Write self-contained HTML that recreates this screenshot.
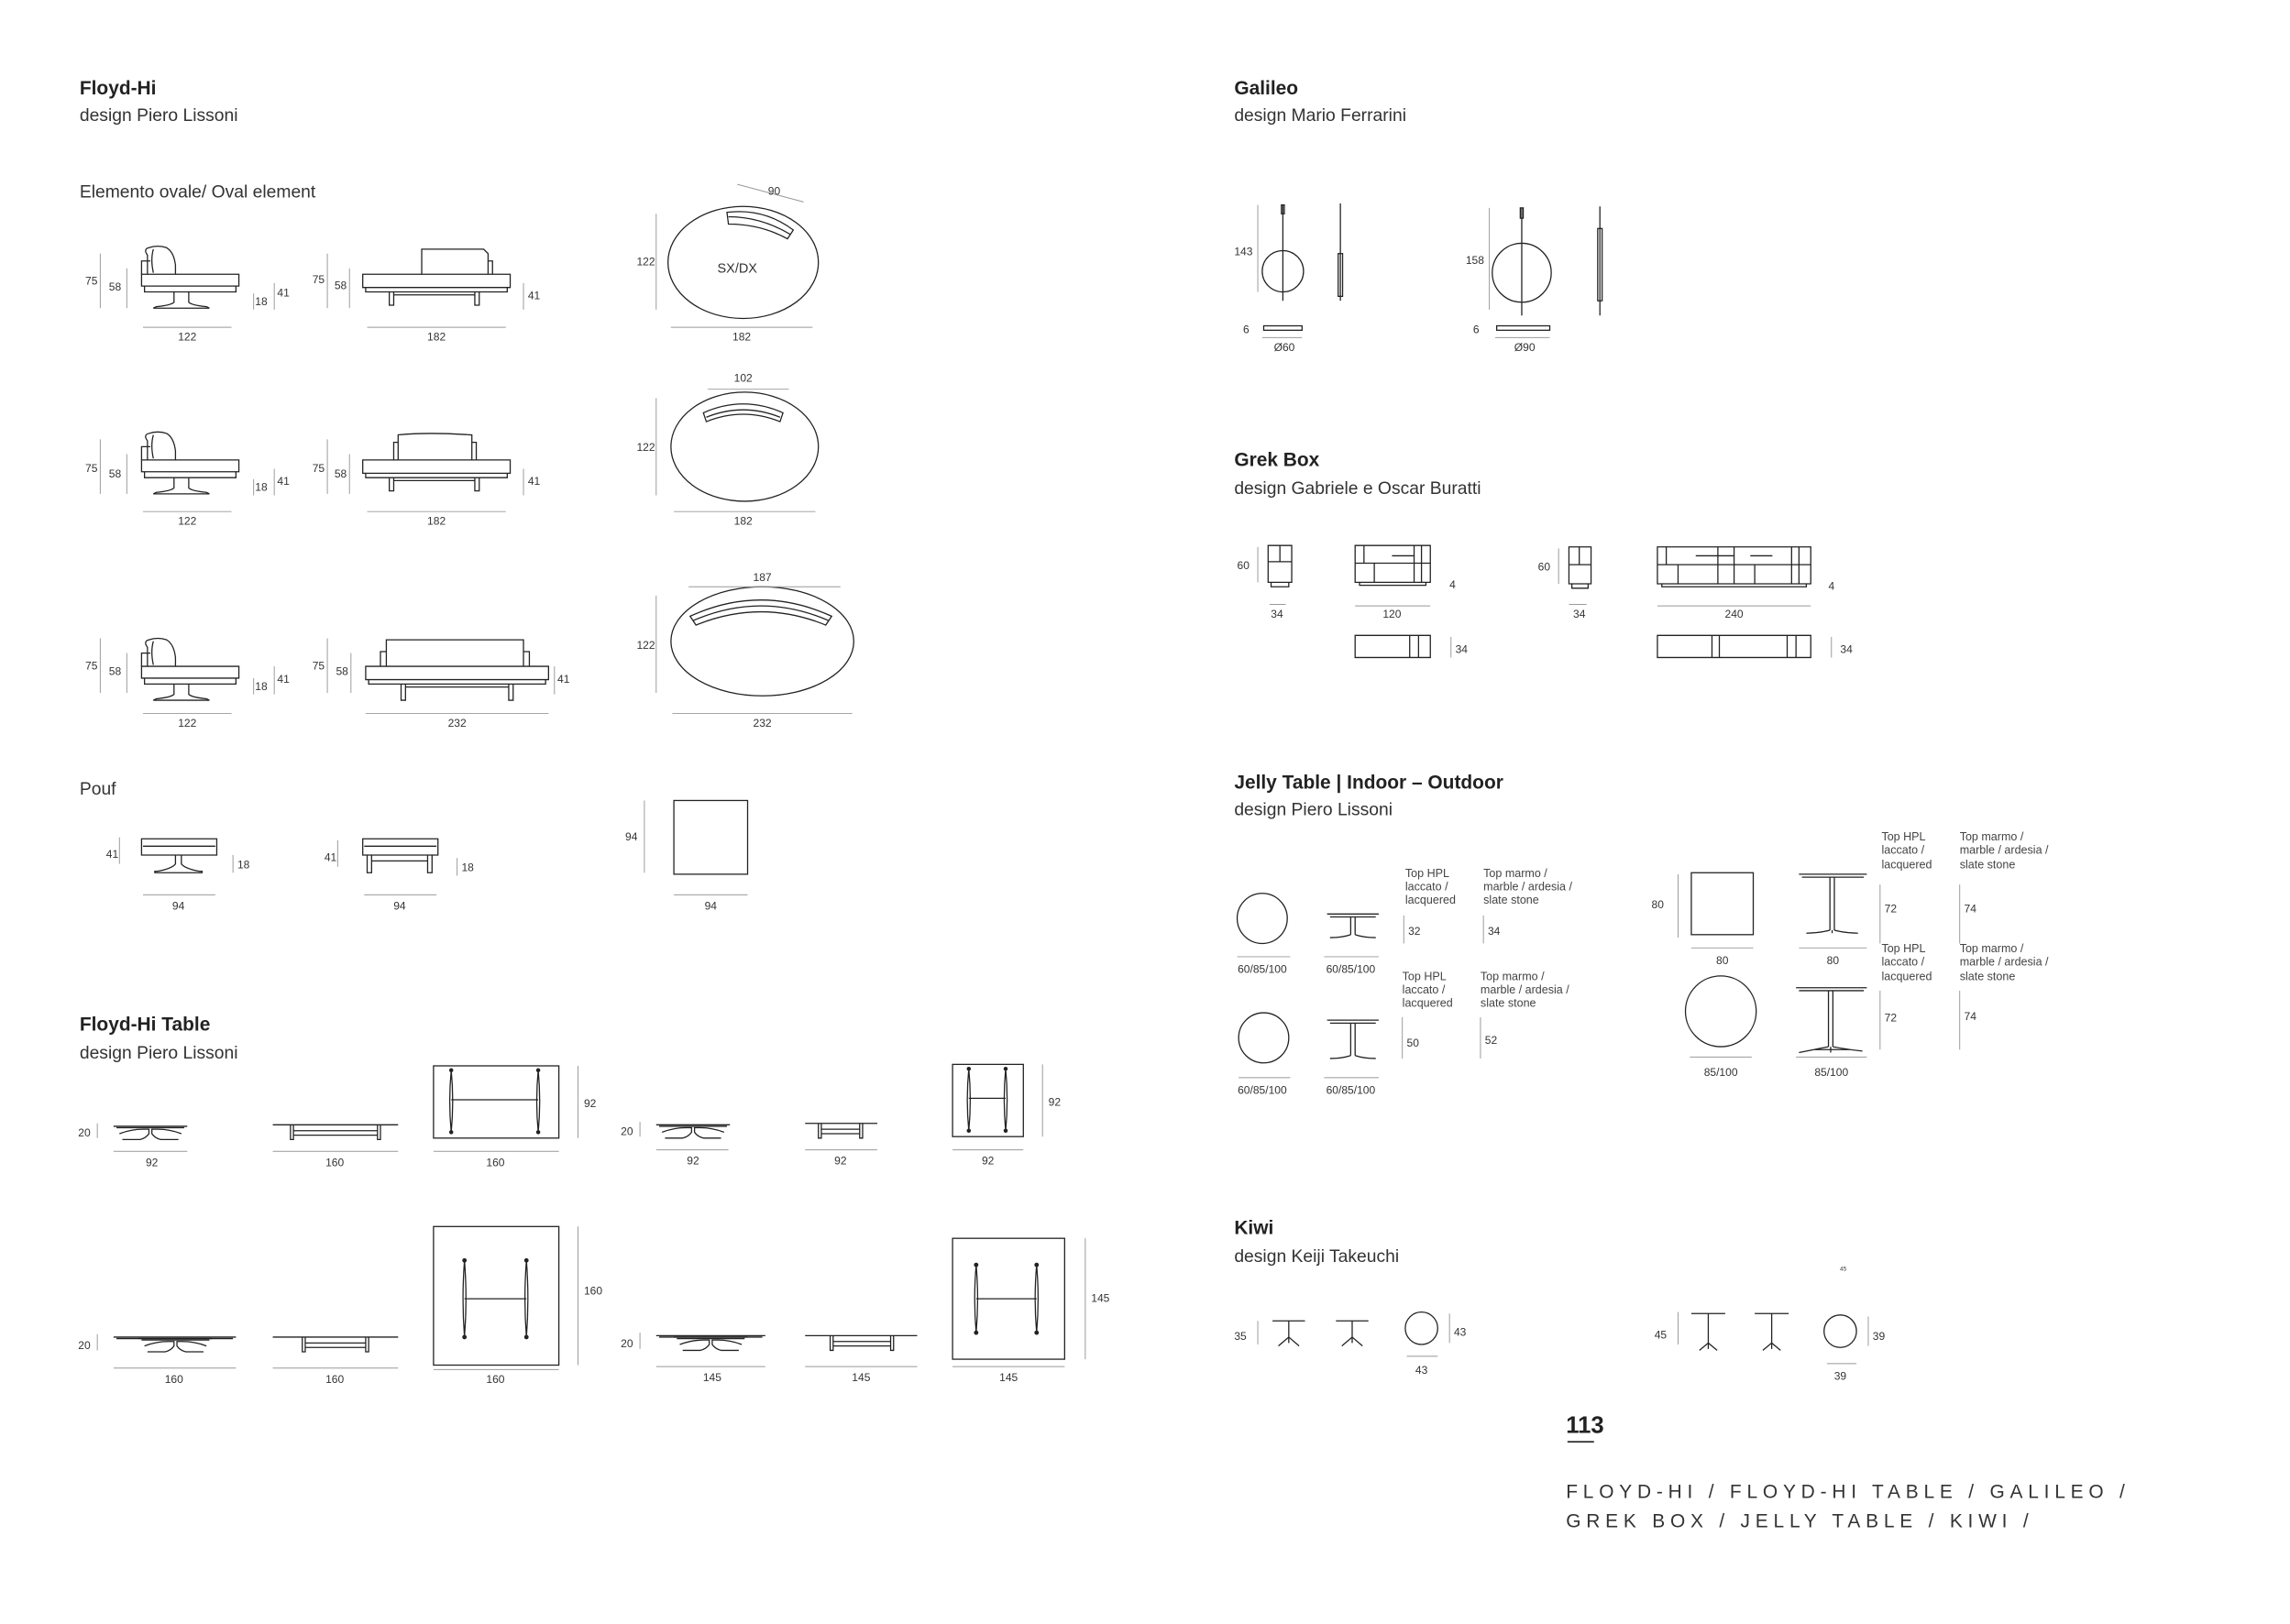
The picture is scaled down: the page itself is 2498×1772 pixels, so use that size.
<!DOCTYPE html>
<html><head><meta charset="utf-8"><style>
html,body{margin:0;padding:0;background:#fff}
svg{display:block}
text{font-family:"Liberation Sans",sans-serif;fill:#222}
.t{font-size:13px;font-weight:bold}
.d{font-size:12px;fill:#333}
.n{font-size:7.5px;fill:#333;text-anchor:middle}
.nl{font-size:7.5px;fill:#333}
.s{font-size:7.8px;fill:#444}
.k{fill:none;stroke:#222;stroke-width:0.8}
.g{fill:none;stroke:#999;stroke-width:0.6}
</style></head><body>
<svg width="2498" height="1772" viewBox="0 0 1553 1101.6" xmlns="http://www.w3.org/2000/svg">
<defs>
<g id="chair">
 <path class="k" d="M0,0 h66 v8 h-66z M2,8 v4 h62 v-4"/>
 <path class="k" d="M0,0 v-9 h6"/>
 <path class="k" d="M4,0 v-13 q-3,-4 1,-5 q6,-2 12,0 q5,3 6,12 v6"/>
 <path class="k" d="M8,-1 q-2,-9 0,-16"/>
 <path class="k" d="M22,12 v7 q-2,2 -12,3 l-2,1 h38 l-2,-1 q-10,-1 -12,-3 v-7"/>
</g>
<g id="sofa182">
 <path class="k" d="M0,0 h100 v9 h-100z M2,9 v3 h96 v-3"/>
 <path class="k" d="M40,0 v-17 h42 l3,3 v14 M85,-9 h3 v9"/>
 <path class="k" d="M18,12 v9 h3 v-9 M76,12 v9 h3 v-9 M21,14 h55"/>
</g>
<g id="pouf">
 <path class="k" d="M0,0 h51 v11 h-51z M1,5 h49"/>
</g>
<g id="tside">
 <path class="k" d="M0,0 h50 M2,1 h46 M4,5 q8,-3 16,-3 h4 v3 q-2,3 -6,4 h-12 M46,5 q-8,-3 -16,-3 h-4 v3 q2,3 6,4 h12"/>
</g>
<g id="kiwi">
 <path class="k" d="M0,0 h22 M11,0 v11 l-7,6 M11,11 l7,6 M11,11 v4"/>
</g>
</defs>

<!-- Floyd-Hi -->
<text class="t" x="54" y="64">Floyd-Hi</text>
<text class="d" x="54" y="82">design Piero Lissoni</text>
<text class="d" x="54" y="134">Elemento ovale/ Oval element</text>

<!-- row 1 -->
<use href="#chair" x="96" y="186"/>
<text class="n" x="62" y="193">75</text><line class="g" x1="68" y1="172" x2="68" y2="209"/>
<text class="n" x="78" y="197">58</text><line class="g" x1="86" y1="182" x2="86" y2="209"/>
<text class="nl" x="173" y="207">18</text><line class="g" x1="172" y1="199" x2="172" y2="210"/>
<text class="nl" x="188" y="201">41</text><line class="g" x1="186" y1="192" x2="186" y2="210"/>
<line class="g" x1="97" y1="222" x2="157" y2="222"/><text class="n" x="127" y="231">122</text>
<use href="#sofa182" x="246" y="186"/>
<text class="n" x="216" y="192">75</text><line class="g" x1="222" y1="172" x2="222" y2="209"/>
<text class="n" x="231" y="196">58</text><line class="g" x1="237" y1="182" x2="237" y2="209"/>
<text class="nl" x="358" y="203">41</text><line class="g" x1="355" y1="192" x2="355" y2="210"/>
<line class="g" x1="249" y1="222" x2="343" y2="222"/><text class="n" x="296" y="231">182</text>
<ellipse class="k" cx="504" cy="178" rx="51" ry="38"/>
<path class="k" d="M493,144 q25,-3 45,12 l-4,6 q-18,-10 -40,-10z M494,147 q22,0 42,12"/>
<text class="n" x="500" y="185" style="font-size:9px">SX/DX</text>
<line class="g" x1="500" y1="125" x2="545" y2="137"/><text class="n" x="525" y="132">90</text>
<text class="n" x="438" y="180">122</text><line class="g" x1="445" y1="145" x2="445" y2="210"/>
<line class="g" x1="455" y1="222" x2="551" y2="222"/><text class="n" x="503" y="231">182</text>

<!-- row 2 -->
<use href="#chair" x="96" y="312"/>
<text class="n" x="62" y="320">75</text><line class="g" x1="68" y1="298" x2="68" y2="335"/>
<text class="n" x="78" y="324">58</text><line class="g" x1="86" y1="308" x2="86" y2="335"/>
<text class="nl" x="173" y="333">18</text><line class="g" x1="172" y1="325" x2="172" y2="336"/>
<text class="nl" x="188" y="329">41</text><line class="g" x1="186" y1="318" x2="186" y2="336"/>
<line class="g" x1="97" y1="347" x2="157" y2="347"/><text class="n" x="127" y="356">122</text>
<path class="k" d="M246,312 h100 v9 h-100z M248,321 v3 h96 v-3 M264,324 v9 h3 v-9 M322,324 v9 h3 v-9 M267,326 h55"/>
<path class="k" d="M270,312 v-17 q20,-2 50,0 v17 M270,300 h-3 v12 M320,300 h3 v12"/>
<text class="n" x="216" y="320">75</text><line class="g" x1="222" y1="298" x2="222" y2="335"/>
<text class="n" x="231" y="324">58</text><line class="g" x1="237" y1="308" x2="237" y2="335"/>
<text class="nl" x="358" y="329">41</text><line class="g" x1="355" y1="318" x2="355" y2="336"/>
<line class="g" x1="249" y1="347" x2="343" y2="347"/><text class="n" x="296" y="356">182</text>
<ellipse class="k" cx="505" cy="303" rx="50" ry="37"/>
<path class="k" d="M477,280 q27,-12 54,0 l-2,6 q-25,-10 -50,0z M479,283 q25,-10 50,0"/>
<line class="g" x1="480" y1="264" x2="535" y2="264"/><text class="n" x="504" y="259">102</text>
<text class="n" x="438" y="306">122</text><line class="g" x1="445" y1="270" x2="445" y2="336"/>
<line class="g" x1="457" y1="347" x2="553" y2="347"/><text class="n" x="504" y="356">182</text>

<!-- row 3 -->
<use href="#chair" x="96" y="452"/>
<text class="n" x="62" y="454">75</text><line class="g" x1="68" y1="433" x2="68" y2="470"/>
<text class="n" x="78" y="458">58</text><line class="g" x1="86" y1="443" x2="86" y2="470"/>
<text class="nl" x="173" y="468">18</text><line class="g" x1="172" y1="460" x2="172" y2="471"/>
<text class="nl" x="188" y="463">41</text><line class="g" x1="186" y1="452" x2="186" y2="471"/>
<line class="g" x1="97" y1="484" x2="157" y2="484"/><text class="n" x="127" y="493">122</text>
<path class="k" d="M248,452 h124 v9 h-124z M250,461 v3 h120 v-3 M262,452 v-18 h93 v18 M258,452 v-10 h4 M355,442 h4 v10 M272,464 v11 h3 v-11 M345,464 v11 h3 v-11 M275,466 h70"/>
<text class="n" x="216" y="454">75</text><line class="g" x1="222" y1="433" x2="222" y2="470"/>
<text class="n" x="232" y="458">58</text><line class="g" x1="238" y1="443" x2="238" y2="470"/>
<text class="nl" x="378" y="463">41</text><line class="g" x1="376" y1="452" x2="376" y2="471"/>
<line class="g" x1="248" y1="484" x2="372" y2="484"/><text class="n" x="310" y="493">232</text>
<ellipse class="k" cx="517" cy="435" rx="62" ry="37"/>
<path class="k" d="M468,418 q48,-22 96,0 l-4,6 q-44,-18 -88,0z M470,421 q46,-20 92,0"/>
<line class="g" x1="467" y1="398" x2="570" y2="398"/><text class="n" x="517" y="394">187</text>
<text class="n" x="438" y="440">122</text><line class="g" x1="445" y1="404" x2="445" y2="470"/>
<line class="g" x1="456" y1="484" x2="578" y2="484"/><text class="n" x="517" y="493">232</text>

<!-- Pouf -->
<text class="d" x="54" y="539">Pouf</text>
<use href="#pouf" x="96" y="569"/>
<path class="k" d="M119,580 v6 q-2,3 -12,5 h-2 v1 h32 v-1 h-2 q-10,-2 -12,-5 v-6"/>
<text class="nl" x="72" y="582">41</text><line class="g" x1="81" y1="568" x2="81" y2="586"/>
<text class="nl" x="161" y="589">18</text><line class="g" x1="158" y1="580" x2="158" y2="592"/>
<line class="g" x1="97" y1="607" x2="146" y2="607"/><text class="n" x="121" y="617">94</text>
<use href="#pouf" x="246" y="569"/>
<path class="k" d="M249,580 v12 h3 v-12 M290,580 v12 h3 v-12 M252,584 h38"/>
<text class="nl" x="220" y="584">41</text><line class="g" x1="229" y1="570" x2="229" y2="588"/>
<text class="nl" x="313" y="591">18</text><line class="g" x1="310" y1="582" x2="310" y2="594"/>
<line class="g" x1="247" y1="607" x2="296" y2="607"/><text class="n" x="271" y="617">94</text>
<rect class="k" x="457" y="543" width="50" height="50"/>
<text class="nl" x="424" y="570">94</text><line class="g" x1="437" y1="543" x2="437" y2="592"/>
<line class="g" x1="457" y1="607" x2="507" y2="607"/><text class="n" x="482" y="617">94</text>

<!-- Floyd-Hi Table -->
<text class="t" x="54" y="699">Floyd-Hi Table</text>
<text class="d" x="54" y="718">design Piero Lissoni</text>
<use href="#tside" x="77" y="764"/>
<text class="nl" x="53" y="771">20</text><line class="g" x1="66" y1="762" x2="66" y2="772"/>
<line class="g" x1="77" y1="781" x2="127" y2="781"/><text class="n" x="103" y="791">92</text>
<path class="k" d="M185,763 h85 M197,763 v10 h2 v-10 M256,763 v10 h2 v-10 M199,767 h57 M199,770 h57"/>
<line class="g" x1="185" y1="781" x2="270" y2="781"/><text class="n" x="227" y="791">160</text>
<rect class="k" x="294" y="723" width="85" height="49"/>
<path class="k" d="M306,726 q-2,21 0,42 M306,726 q2,21 0,42 M365,726 q-2,21 0,42 M365,726 q2,21 0,42 M306,746 h59"/>
<circle cx="306" cy="726" r="1.4" fill="#222"/><circle cx="306" cy="768" r="1.4" fill="#222"/><circle cx="365" cy="726" r="1.4" fill="#222"/><circle cx="365" cy="768" r="1.4" fill="#222"/>
<text class="nl" x="396" y="751">92</text><line class="g" x1="392" y1="723" x2="392" y2="772"/>
<line class="g" x1="294" y1="781" x2="379" y2="781"/><text class="n" x="336" y="791">160</text>

<use href="#tside" x="445" y="763"/>
<text class="nl" x="421" y="770">20</text><line class="g" x1="434" y1="761" x2="434" y2="771"/>
<line class="g" x1="445" y1="780" x2="494" y2="780"/><text class="n" x="470" y="790">92</text>
<path class="k" d="M546,762 h49 M555,762 v10 h2 v-10 M583,762 v10 h2 v-10 M557,766 h26 M557,769 h26"/>
<line class="g" x1="546" y1="780" x2="595" y2="780"/><text class="n" x="570" y="790">92</text>
<rect class="k" x="646" y="722" width="48" height="49"/>
<path class="k" d="M657,725 q-2,21 0,42 M657,725 q2,21 0,42 M682,725 q-2,21 0,42 M682,725 q2,21 0,42 M657,745 h25"/>
<circle cx="657" cy="725" r="1.4" fill="#222"/><circle cx="657" cy="767" r="1.4" fill="#222"/><circle cx="682" cy="725" r="1.4" fill="#222"/><circle cx="682" cy="767" r="1.4" fill="#222"/>
<text class="nl" x="711" y="750">92</text><line class="g" x1="707" y1="722" x2="707" y2="771"/>
<line class="g" x1="646" y1="780" x2="694" y2="780"/><text class="n" x="670" y="790">92</text>

<path class="k" d="M77,907 h83 M79,908 h79"/>
<use href="#tside" x="94" y="908"/>
<text class="nl" x="53" y="915">20</text><line class="g" x1="66" y1="905" x2="66" y2="916"/>
<line class="g" x1="77" y1="928" x2="160" y2="928"/><text class="n" x="118" y="938">160</text>
<path class="k" d="M185,907 h85 M205,907 v10 h2 v-10 M248,907 v10 h2 v-10 M207,911 h41 M207,914 h41"/>
<line class="g" x1="185" y1="928" x2="270" y2="928"/><text class="n" x="227" y="938">160</text>
<rect class="k" x="294" y="832" width="85" height="94"/>
<path class="k" d="M315,855 q-2,26 0,52 M315,855 q2,26 0,52 M357,855 q-2,26 0,52 M357,855 q2,26 0,52 M315,881 h42"/>
<circle cx="315" cy="855" r="1.5" fill="#222"/><circle cx="315" cy="907" r="1.5" fill="#222"/><circle cx="357" cy="855" r="1.5" fill="#222"/><circle cx="357" cy="907" r="1.5" fill="#222"/>
<text class="nl" x="396" y="878">160</text><line class="g" x1="392" y1="832" x2="392" y2="926"/>
<line class="g" x1="294" y1="929" x2="379" y2="929"/>
<text class="n" x="336" y="938">160</text>

<path class="k" d="M445,906 h74 M447,907 h70"/>
<use href="#tside" x="457" y="907"/>
<text class="nl" x="421" y="914">20</text><line class="g" x1="434" y1="904" x2="434" y2="915"/>
<line class="g" x1="445" y1="927" x2="519" y2="927"/><text class="n" x="483" y="937">145</text>
<path class="k" d="M546,906 h76 M563,906 v10 h2 v-10 M604,906 v10 h2 v-10 M565,910 h39 M565,913 h39"/>
<line class="g" x1="546" y1="927" x2="622" y2="927"/><text class="n" x="584" y="937">145</text>
<rect class="k" x="646" y="840" width="76" height="82"/>
<path class="k" d="M662,858 q-2,23 0,46 M662,858 q2,23 0,46 M703,858 q-2,23 0,46 M703,858 q2,23 0,46 M662,881 h41"/>
<circle cx="662" cy="858" r="1.5" fill="#222"/><circle cx="662" cy="904" r="1.5" fill="#222"/><circle cx="703" cy="858" r="1.5" fill="#222"/><circle cx="703" cy="904" r="1.5" fill="#222"/>
<text class="nl" x="740" y="883">145</text><line class="g" x1="736" y1="840" x2="736" y2="922"/>
<line class="g" x1="646" y1="927" x2="722" y2="927"/><text class="n" x="684" y="937">145</text>

<!-- Galileo -->
<text class="t" x="837" y="64">Galileo</text>
<text class="d" x="837" y="82">design Mario Ferrarini</text>
<line class="g" x1="853" y1="139" x2="853" y2="198"/><text class="nl" x="837" y="173">143</text>
<line class="k" x1="870" y1="139" x2="870" y2="204"/><rect class="k" x="869" y="139" width="2" height="6"/>
<circle class="k" cx="870" cy="184" r="14"/>
<line class="k" x1="909" y1="138" x2="909" y2="204"/><rect class="k" x="907.5" y="172" width="3" height="29"/>
<text class="nl" x="843" y="226">6</text>
<rect class="k" x="857" y="221" width="26" height="3"/>
<line class="g" x1="856" y1="229" x2="883" y2="229"/><text class="n" x="871" y="238">Ø60</text>
<line class="g" x1="1010" y1="141" x2="1010" y2="210"/><text class="nl" x="994" y="179">158</text>
<line class="k" x1="1032" y1="141" x2="1032" y2="214"/><rect class="k" x="1031" y="141" width="2" height="7"/>
<circle class="k" cx="1032" cy="185" r="20"/>
<line class="k" x1="1085" y1="140" x2="1085" y2="214"/><rect class="k" x="1083.5" y="155" width="3" height="49"/>
<text class="nl" x="999" y="226">6</text>
<rect class="k" x="1015" y="221" width="36" height="3"/>
<line class="g" x1="1014" y1="229" x2="1051" y2="229"/><text class="n" x="1034" y="238">Ø90</text>

<!-- Grek Box -->
<text class="t" x="837" y="316">Grek Box</text>
<text class="d" x="837" y="335">design Gabriele e Oscar Buratti</text>
<text class="nl" x="839" y="386">60</text><line class="g" x1="853" y1="371" x2="853" y2="395"/>
<path class="k" d="M860,370 h16 v25 h-16z M868,370 v11 M860,381 h16 M862,395 v3 h12 v-3"/>
<line class="g" x1="861" y1="410" x2="872" y2="410"/><text class="n" x="866" y="419">34</text>
<path class="k" d="M919,370 h51 v25 h-51z M919,382 h51 M925,370 v12 M932,382 v13 M944,377 h15 M959,370 v25 M964,370 v25 M922,395 v2 h45 v-2"/>
<text class="nl" x="983" y="399">4</text>
<line class="g" x1="919" y1="411" x2="970" y2="411"/><text class="n" x="944" y="419">120</text>
<path class="k" d="M919,431 h51 v15 h-51z M956,431 v15 M962,431 v15"/>
<text class="nl" x="987" y="443">34</text><line class="g" x1="984" y1="432" x2="984" y2="446"/>
<text class="nl" x="1043" y="387">60</text><line class="g" x1="1057" y1="372" x2="1057" y2="396"/>
<path class="k" d="M1064,371 h15 v25 h-15z M1071,371 v12 M1064,383 h15 M1066,396 v3 h11 v-3"/>
<line class="g" x1="1064" y1="410" x2="1076" y2="410"/><text class="n" x="1071" y="419">34</text>
<path class="k" d="M1124,371 h104 v25 h-104z M1124,383 h104 M1130,371 v12 M1138,383 v13 M1150,377 h26 M1165,371 v25 M1176,371 v25 M1187,377 h15 M1190,383 v13 M1215,371 v25 M1220,371 v25 M1127,396 v2 h98 v-2"/>
<text class="nl" x="1240" y="400">4</text>
<line class="g" x1="1124" y1="411" x2="1228" y2="411"/><text class="n" x="1176" y="419">240</text>
<path class="k" d="M1124,431 h104 v15 h-104z M1161,431 v15 M1166,431 v15 M1212,431 v15 M1218,431 v15"/>
<text class="nl" x="1248" y="443">34</text><line class="g" x1="1242" y1="432" x2="1242" y2="446"/>

<!-- Jelly -->
<text class="t" x="837" y="535">Jelly Table | Indoor – Outdoor</text>
<text class="d" x="837" y="553">design Piero Lissoni</text>
<circle class="k" cx="856" cy="623" r="17"/>
<line class="g" x1="839" y1="649" x2="875" y2="649"/><text class="n" x="856" y="660">60/85/100</text>
<path class="k" d="M900,620 h35 M902,622 h31 M916,622 v12 M919,622 v12 M916,634 q-6,2 -14,2 M919,634 q6,2 14,2"/>
<line class="g" x1="898" y1="649" x2="935" y2="649"/><text class="n" x="916" y="660">60/85/100</text>
<text class="s" x="953" y="595">Top HPL</text><text class="s" x="953" y="604">laccato /</text><text class="s" x="953" y="613">lacquered</text>
<text class="s" x="1006" y="595">Top marmo /</text><text class="s" x="1006" y="604">marble / ardesia /</text><text class="s" x="1006" y="613">slate stone</text>
<line class="g" x1="952" y1="621" x2="952" y2="640"/><text class="nl" x="955" y="634">32</text>
<line class="g" x1="1006" y1="621" x2="1006" y2="640"/><text class="nl" x="1009" y="634">34</text>
<circle class="k" cx="857" cy="704" r="17"/>
<line class="g" x1="840" y1="731" x2="875" y2="731"/><text class="n" x="856" y="742">60/85/100</text>
<path class="k" d="M900,692 h35 M902,694 h31 M916,694 v22 M919,694 v22 M916,716 q-6,2 -14,2 M919,716 q6,2 14,2"/>
<line class="g" x1="898" y1="731" x2="935" y2="731"/><text class="n" x="916" y="742">60/85/100</text>
<text class="s" x="951" y="665">Top HPL</text><text class="s" x="951" y="674">laccato /</text><text class="s" x="951" y="683">lacquered</text>
<text class="s" x="1004" y="665">Top marmo /</text><text class="s" x="1004" y="674">marble / ardesia /</text><text class="s" x="1004" y="683">slate stone</text>
<line class="g" x1="951" y1="690" x2="951" y2="718"/><text class="nl" x="954" y="710">50</text>
<line class="g" x1="1004" y1="690" x2="1004" y2="718"/><text class="nl" x="1007" y="708">52</text>

<rect class="k" x="1147" y="592" width="42" height="42"/>
<text class="nl" x="1120" y="616">80</text><line class="g" x1="1138" y1="593" x2="1138" y2="636"/>
<line class="g" x1="1147" y1="643" x2="1189" y2="643"/><text class="n" x="1168" y="654">80</text>
<path class="k" d="M1220,593 h46 M1222,595 h42 M1241,595 v36 M1244,595 v36 M1241,631 q-8,2 -16,2 M1244,631 q8,2 16,2 M1242.5,631 v2"/>
<line class="g" x1="1220" y1="643" x2="1266" y2="643"/><text class="n" x="1243" y="654">80</text>
<text class="s" x="1276" y="570">Top HPL</text><text class="s" x="1276" y="579">laccato /</text><text class="s" x="1276" y="589">lacquered</text>
<text class="s" x="1329" y="570">Top marmo /</text><text class="s" x="1329" y="579">marble / ardesia /</text><text class="s" x="1329" y="589">slate stone</text>
<line class="g" x1="1275" y1="600" x2="1275" y2="640"/><text class="nl" x="1278" y="619">72</text>
<line class="g" x1="1329" y1="600" x2="1329" y2="640"/><text class="nl" x="1332" y="619">74</text>
<circle class="k" cx="1167" cy="686" r="24"/>
<line class="g" x1="1146" y1="717" x2="1188" y2="717"/><text class="n" x="1167" y="730">85/100</text>
<path class="k" d="M1218,670 h48 M1220,672 h44 M1240,672 v38 M1243,672 v38 M1240,710 q-10,2 -20,4 M1243,710 q10,2 20,3 M1241.5,710 v4 M1230,712 h24"/>
<line class="g" x1="1218" y1="717" x2="1266" y2="717"/><text class="n" x="1242" y="730">85/100</text>
<text class="s" x="1276" y="646">Top HPL</text><text class="s" x="1276" y="655">laccato /</text><text class="s" x="1276" y="665">lacquered</text>
<text class="s" x="1329" y="646">Top marmo /</text><text class="s" x="1329" y="655">marble / ardesia /</text><text class="s" x="1329" y="665">slate stone</text>
<line class="g" x1="1275" y1="672" x2="1275" y2="712"/><text class="nl" x="1278" y="693">72</text>
<line class="g" x1="1329" y1="672" x2="1329" y2="712"/><text class="nl" x="1332" y="692">74</text>

<!-- Kiwi -->
<text class="t" x="837" y="837">Kiwi</text>
<text class="d" x="837" y="856">design Keiji Takeuchi</text>
<text class="nl" x="837" y="909">35</text><line class="g" x1="853" y1="896" x2="853" y2="912"/>
<use href="#kiwi" x="863" y="896"/><use href="#kiwi" x="906" y="896"/>
<circle class="k" cx="964" cy="901" r="11"/>
<text class="nl" x="986" y="906">43</text><line class="g" x1="983" y1="891" x2="983" y2="911"/>
<line class="g" x1="954" y1="920" x2="975" y2="920"/><text class="n" x="964" y="932">43</text>
<text class="nl" x="1122" y="908">45</text><line class="g" x1="1138" y1="890" x2="1138" y2="912"/>
<path class="k" d="M1147,891 h23 M1158.5,891 v20 l-6,5 M1158.5,911 l6,5 M1158.5,911 v4"/>
<path class="k" d="M1190,891 h23 M1201.5,891 v20 l-6,5 M1201.5,911 l6,5 M1201.5,911 v4"/>
<circle class="k" cx="1248" cy="903" r="11"/>
<text class="nl" x="1270" y="909">39</text><line class="g" x1="1267" y1="893" x2="1267" y2="913"/>
<line class="g" x1="1239" y1="925" x2="1259" y2="925"/><text class="n" x="1248" y="936">39</text>
<text class="n" x="1250" y="862" style="font-size:4px">45</text>

<!-- footer -->
<text x="1062" y="972" style="font-size:16px;font-weight:bold">113</text>
<line x1="1063" y1="978" x2="1081" y2="978" stroke="#222" stroke-width="1"/>
<text x="1062" y="1016" style="font-size:13px;letter-spacing:3.6px;fill:#333">FLOYD-HI / FLOYD-HI TABLE / GALILEO /</text>
<text x="1062" y="1036" style="font-size:13px;letter-spacing:3.6px;fill:#333">GREK BOX / JELLY TABLE / KIWI /</text>
</svg>
</body></html>
